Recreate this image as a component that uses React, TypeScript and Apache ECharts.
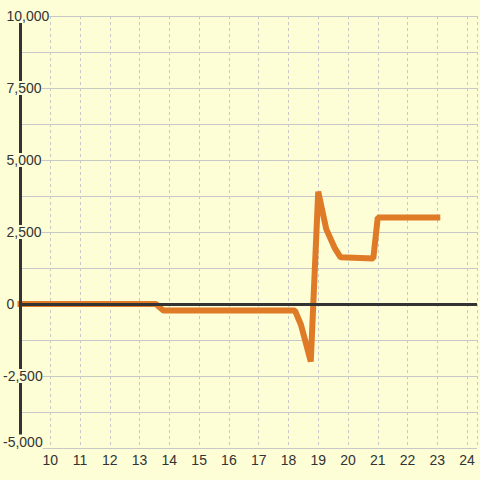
import React, { useEffect, useRef } from "react";
import * as echarts from "echarts";

// ---- data ----
const times = [8.9, 13.55, 13.8, 18.22, 18.42, 18.75, 19.0, 19.27, 19.55, 19.75, 20.85, 21.0, 23.1];
const values = [0, 0, -230, -230, -720, -2000, 3900, 2600, 1950, 1620, 1580, 3000, 3000];

const xTickValues = [10, 11, 12, 13, 14, 15, 16, 17, 18, 19, 20, 21, 22, 23, 24];
const xTickLabels = ["10", "11", "12", "13", "14", "15", "16", "17", "18", "19", "20", "21", "22", "23", "24"];
const yTickValues = [-5000, -2500, 0, 2500, 5000, 7500, 10000];
const yTickLabels = ["-5,000", "-2,500", "0", "2,500", "5,000", "7,500", "10,000"];

const BG = "#fdfdd6";
const ORANGE = "#df7a26";
const GRID = "#c8c8c8";
const TEXT = "#333333";
const FONT = "Liberation Sans";

export default function App() {
  const ref = useRef<HTMLDivElement>(null);
  useEffect(() => {
    if (!ref.current) return;
    const chart = echarts.init(ref.current, undefined, { renderer: "svg" });
    const labelBase = { fontSize: 14, fontFamily: FONT, color: TEXT };
    chart.setOption({
      animation: false,
      backgroundColor: BG,
      grid: { left: 20, right: 0, top: 16, bottom: 32 },
      xAxis: {
        type: "value",
        min: 9,
        max: 24.3333,
        interval: 1,
        axisLine: { show: false },
        axisTick: { show: false },
        splitLine: { show: true, lineStyle: { color: GRID, width: 1, type: [3, 3] } },
        axisLabel: {
          ...labelBase,
          margin: 5,
          formatter: (v: number) => {
            const i = xTickValues.findIndex((t) => Math.abs(t - v) < 1e-6);
            return i >= 0 ? xTickLabels[i] : "";
          },
        },
      },
      yAxis: [
        {
          type: "value",
          position: "left",
          min: -5000,
          max: 10000,
          interval: 2500,
          axisLine: { show: false },
          axisTick: { show: false },
          axisLabel: { show: false },
          splitLine: { show: true, lineStyle: { color: GRID, width: 1 } },
          minorTick: { show: false, splitNumber: 2 },
          minorSplitLine: { show: true, lineStyle: { color: GRID, width: 1 } },
        },
        {
          type: "value",
          position: "left",
          offset: 0,
          z: 5,
          min: -5000,
          max: 10000,
          interval: 2500,
          axisLine: { show: true, onZero: false, lineStyle: { color: TEXT, width: 3 } },
          axisTick: { show: false },
          splitLine: { show: false },
          axisLabel: {
            ...labelBase,
            align: "left",
            margin: 17.5,
            backgroundColor: BG,
            formatter: (v: number) => {
              const i = yTickValues.findIndex((t) => Math.abs(t - v) < 1e-6);
              const lbl = i >= 0 ? yTickLabels[i] : "";
              if (i === 0) return `{b|${lbl}}`;
              if (v >= 0) return `{p|${lbl}}`;
              return `{n|${lbl}}`;
            },
            rich: {
              p: { ...labelBase, padding: [0, 0, 0, 3.5] },
              n: { ...labelBase },
              b: { ...labelBase, padding: [0, 0, 13, 0] },
            },
          },
        },
      ],
      series: [
        {
          type: "line",
          yAxisIndex: 0,
          z: 1,
          data: [],
          markLine: {
            silent: true,
            symbol: "none",
            label: { show: false },
            lineStyle: { color: TEXT, width: 3, type: "solid" },
            data: [{ yAxis: 0 }],
          },
        },
        {
          type: "line",
          yAxisIndex: 0,
          z: 2,
          clip: false,
          symbol: "none",
          showSymbol: false,
          lineStyle: { color: ORANGE, width: 6 },
          data: times.map((t, i) => [t, values[i]]),
        },
      ],
    });
    return () => chart.dispose();
  }, []);
  return (
    <div
      ref={ref}
      style={{ position: "absolute", left: 0, top: 0, width: 480, height: 480, background: BG }}
    />
  );
}
